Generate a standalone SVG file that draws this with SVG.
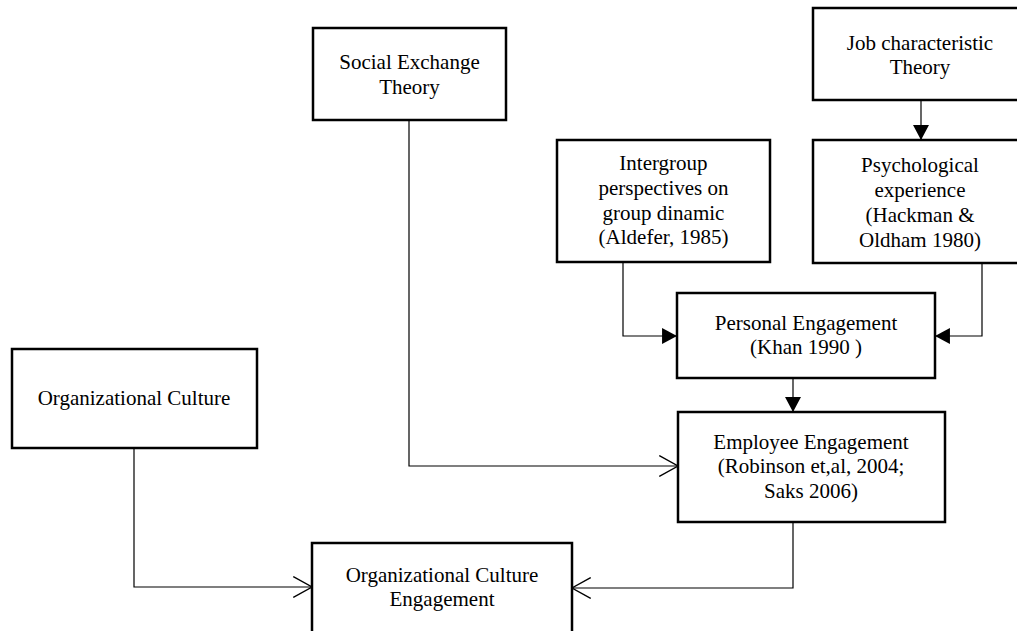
<svg xmlns="http://www.w3.org/2000/svg" width="1017" height="631" viewBox="0 0 1017 631">
<style>
.box{fill:#fff;stroke:#000;stroke-width:2.5}
.lbl{font-family:"Liberation Serif","Times New Roman",serif;font-size:21px;fill:#000;text-anchor:middle}
.con{fill:none;stroke:#000;stroke-width:1.2}
.filled{marker-end:url(#tri)}
.open{marker-end:url(#vee)}
</style>
<defs>
<marker id="tri" markerUnits="userSpaceOnUse" markerWidth="16" markerHeight="16" viewBox="0 0 14 15" refX="14" refY="7.5" orient="auto">
<path d="M0,0 L14,7.5 L0,15 z" fill="#000"/>
</marker>
<marker id="vee" markerUnits="userSpaceOnUse" markerWidth="20" markerHeight="22" viewBox="0 0 18 20" refX="17" refY="10" orient="auto">
<path d="M0,0.5 L17,10 L0,19.5" fill="none" stroke="#000" stroke-width="1.2"/>
</marker>
</defs>
<rect width="1017" height="631" fill="#fff"/>
<g id="connectors">
<path class="con filled" d="M921,100 V140"/>
<path class="con filled" d="M623,262 V336 H677"/>
<path class="con filled" d="M982,263 V336 H935"/>
<path class="con filled" d="M793,378 V412"/>
<path class="con open" d="M409,120 V466 H678"/>
<path class="con open" d="M134,448 V587 H312"/>
<path class="con open" d="M793,522 V588 H572"/>
</g>
<g id="social-exchange">
<rect class="box" x="313" y="28" width="193" height="92"/>
<text class="lbl" x="409.5" y="69">Social Exchange</text>
<text class="lbl" x="409.5" y="94">Theory</text>
</g>
<g id="job-characteristic">
<rect class="box" x="813" y="8" width="215" height="92"/>
<text class="lbl" x="920" y="50">Job characteristic</text>
<text class="lbl" x="920" y="74">Theory</text>
</g>
<g id="psychological-experience">
<rect class="box" x="813" y="140" width="215" height="123"/>
<text class="lbl" x="920" y="172">Psychological</text>
<text class="lbl" x="920" y="197">experience</text>
<text class="lbl" x="920" y="222">(Hackman &amp;</text>
<text class="lbl" x="920" y="247">Oldham 1980)</text>
</g>
<g id="intergroup">
<rect class="box" x="557" y="140" width="213" height="122"/>
<text class="lbl" x="663.5" y="170">Intergroup</text>
<text class="lbl" x="663.5" y="195">perspectives on</text>
<text class="lbl" x="663.5" y="220">group dinamic</text>
<text class="lbl" x="663.5" y="244">(Aldefer, 1985)</text>
</g>
<g id="personal-engagement">
<rect class="box" x="677" y="293" width="258" height="85"/>
<text class="lbl" x="806" y="330">Personal Engagement</text>
<text class="lbl" x="806" y="354">(Khan 1990 )</text>
</g>
<g id="employee-engagement">
<rect class="box" x="678" y="412" width="267" height="110"/>
<text class="lbl" x="811" y="449">Employee Engagement</text>
<text class="lbl" x="811" y="473">(Robinson et,al, 2004;</text>
<text class="lbl" x="811" y="498">Saks 2006)</text>
</g>
<g id="organizational-culture">
<rect class="box" x="12" y="349" width="245" height="99"/>
<text class="lbl" x="134" y="405">Organizational Culture</text>
</g>
<g id="org-culture-engagement">
<rect class="box" x="312" y="543" width="260" height="100"/>
<text class="lbl" x="442" y="582">Organizational Culture</text>
<text class="lbl" x="442" y="606">Engagement</text>
</g>
</svg>
